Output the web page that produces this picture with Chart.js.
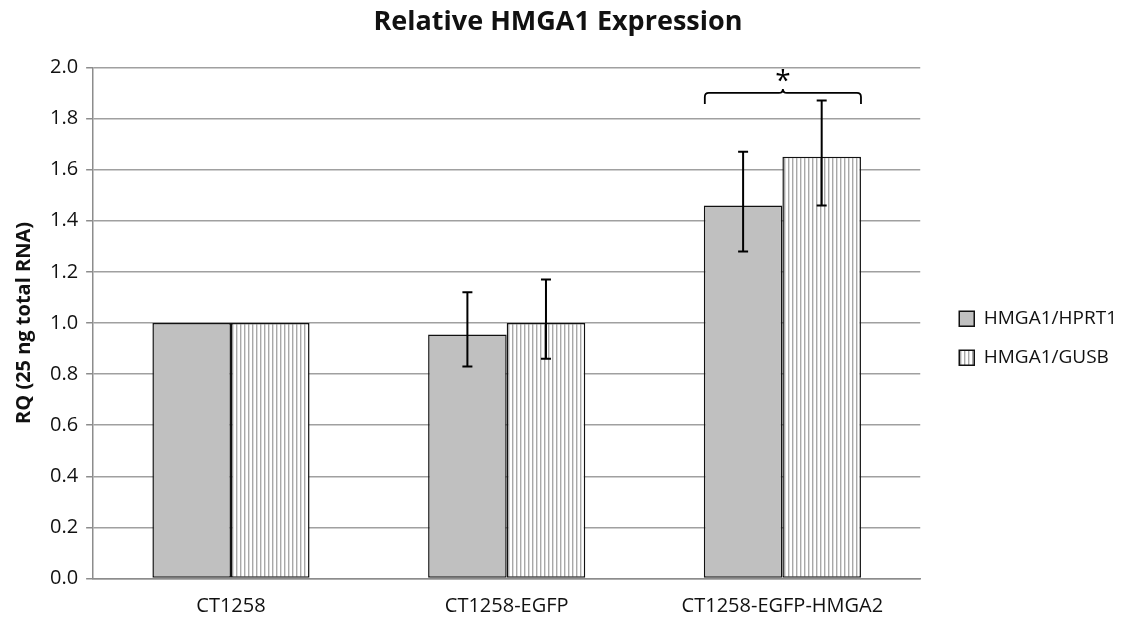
<!DOCTYPE html>
<html>
<head>
<meta charset="utf-8">
<script src="https://cdn.jsdelivr.net/npm/chart.js@4"></script>
<style>
  html, body { margin: 0; padding: 0; background: #fff; }
  #wrap { width: 1121px; height: 619px; }
</style>
</head>
<body>
<div id="wrap"><canvas id="chart" width="1121" height="619"></canvas></div>
<script>
const categories = ["CT1258", "CT1258-EGFP", "CT1258-EGFP-HMGA2"];
const seriesNames = ["HMGA1/HPRT1", "HMGA1/GUSB"];
const hprt1Values = [1.0, 0.955, 1.46];
const gusbValues = [1.0, 1.0, 1.65];
const hprt1ErrLow = [null, 0.83, 1.28];
const hprt1ErrHigh = [null, 1.12, 1.67];
const gusbErrLow = [null, 0.86, 1.46];
const gusbErrHigh = [null, 1.17, 1.87];
const yTicks = [0, 0.2, 0.4, 0.6, 0.8, 1.0, 1.2, 1.4, 1.6, 1.8, 2.0];
const bracketLevel = 1.9;   // height of the significance bracket
const bracketGroup = 2;     // which category gets the "*"

const FONT = "'Open Sans', 'Liberation Sans', sans-serif";

// vertical stripe fill for the GUSB series
function stripes() {
  const c = document.createElement("canvas");
  c.width = 4; c.height = 4;
  const g = c.getContext("2d");
  g.fillStyle = "#ffffff";
  g.fillRect(0, 0, 4, 4);
  g.fillStyle = "#a8a8a8";
  g.fillRect(0, 0, 1, 4);
  g.fillStyle = "#dcdcdc";
  g.fillRect(1, 0, 1, 4);
  return g.createPattern(c, "repeat");
}

// nudge the legend into the spot it has in the original
const legendShift = {
  id: "legendShift",
  afterLayout(chart) {
    const lg = chart.legend;
    lg.left += 19; lg.right += 19;
    lg.top += 18; lg.bottom += 18;
  }
};

const errorBars = {
  id: "errorBars",
  afterDatasetsDraw(chart) {
    const ctx = chart.ctx;
    const y = chart.scales.y;
    const lows = [hprt1ErrLow, gusbErrLow];
    const highs = [hprt1ErrHigh, gusbErrHigh];
    ctx.save();
    ctx.strokeStyle = "#000";
    ctx.lineWidth = 2;
    chart.data.datasets.forEach((ds, di) => {
      chart.getDatasetMeta(di).data.forEach((bar, i) => {
        if (lows[di][i] == null) return;
        const top = y.getPixelForValue(highs[di][i]);
        const bot = y.getPixelForValue(lows[di][i]);
        ctx.beginPath();
        ctx.moveTo(bar.x, top); ctx.lineTo(bar.x, bot);
        ctx.moveTo(bar.x - 5, top); ctx.lineTo(bar.x + 5, top);
        ctx.moveTo(bar.x - 5, bot); ctx.lineTo(bar.x + 5, bot);
        ctx.stroke();
      });
    });

    // significance bracket
    const b1 = chart.getDatasetMeta(0).data[bracketGroup];
    const b2 = chart.getDatasetMeta(1).data[bracketGroup];
    const left = b1.x - b1.width / 2 + 1;
    const right = b2.x + b2.width / 2;
    const mid = (left + right) / 2;
    const by = y.getPixelForValue(bracketLevel);
    const r = 4;
    ctx.lineWidth = 1.8;
    ctx.beginPath();
    ctx.moveTo(left, by + 11);
    ctx.lineTo(left, by + r);
    ctx.quadraticCurveTo(left, by, left + r, by);
    ctx.lineTo(mid - r, by);
    ctx.quadraticCurveTo(mid, by, mid, by - r);
    ctx.quadraticCurveTo(mid, by, mid + r, by);
    ctx.lineTo(right - r, by);
    ctx.quadraticCurveTo(right, by, right, by + r);
    ctx.lineTo(right, by + 11);
    ctx.stroke();
    ctx.fillStyle = "#000";
    ctx.font = "28px " + FONT;
    ctx.textAlign = "center";
    ctx.textBaseline = "middle";
    ctx.fillText("*", mid, by - 11);
    ctx.restore();
  }
};

new Chart(document.getElementById("chart"), {
  type: "bar",
  data: {
    labels: categories,
    datasets: [
      {
        label: seriesNames[0],
        data: hprt1Values,
        backgroundColor: "#c0c0c0",
        borderColor: "#111",
        borderWidth: 1.5,
        borderSkipped: false
      },
      {
        label: seriesNames[1],
        data: gusbValues,
        backgroundColor: stripes(),
        borderColor: "#111",
        borderWidth: 1.5,
        borderSkipped: false
      }
    ]
  },
  options: {
    responsive: false,
    animation: false,
    layout: { padding: { left: 8, right: 13, top: 6, bottom: -15.5 } },
    datasets: { bar: { categoryPercentage: 0.57, barPercentage: 1.0 } },
    plugins: {
      title: {
        display: true,
        text: "Relative HMGA1 Expression",
        color: "#111",
        font: { family: FONT, size: 27, weight: "bold" },
        padding: { top: 0, bottom: 29 }
      },
      legend: {
        position: "right",
        labels: {
          color: "#111",
          font: { family: FONT, size: 19 },
          boxWidth: 15,
          boxHeight: 15,
          padding: 20
        }
      },
      tooltip: { enabled: false }
    },
    scales: {
      x: {
        grid: { display: false, drawTicks: false },
        border: { color: "#8c8c8c", width: 1.5 },
        ticks: { color: "#111", font: { family: FONT, size: 20 }, padding: 16 }
      },
      y: {
        min: 0,
        max: 2,
        afterBuildTicks(axis) { axis.ticks = yTicks.map(v => ({ value: v })); },
        grid: { color: "#a0a0a0", lineWidth: 1.5, tickLength: 7, tickColor: "#8c8c8c" },
        border: { color: "#8c8c8c", width: 1.5 },
        ticks: {
          color: "#111",
          font: { family: FONT, size: 20 },
          padding: 8,
          callback: v => v.toFixed(1)
        },
        title: {
          display: true,
          text: "RQ (25 ng total RNA)",
          color: "#111",
          font: { family: FONT, size: 20, weight: "bold" },
          padding: { bottom: 6 }
        }
      }
    }
  },
  plugins: [errorBars, legendShift]
});
</script>
</body>
</html>
